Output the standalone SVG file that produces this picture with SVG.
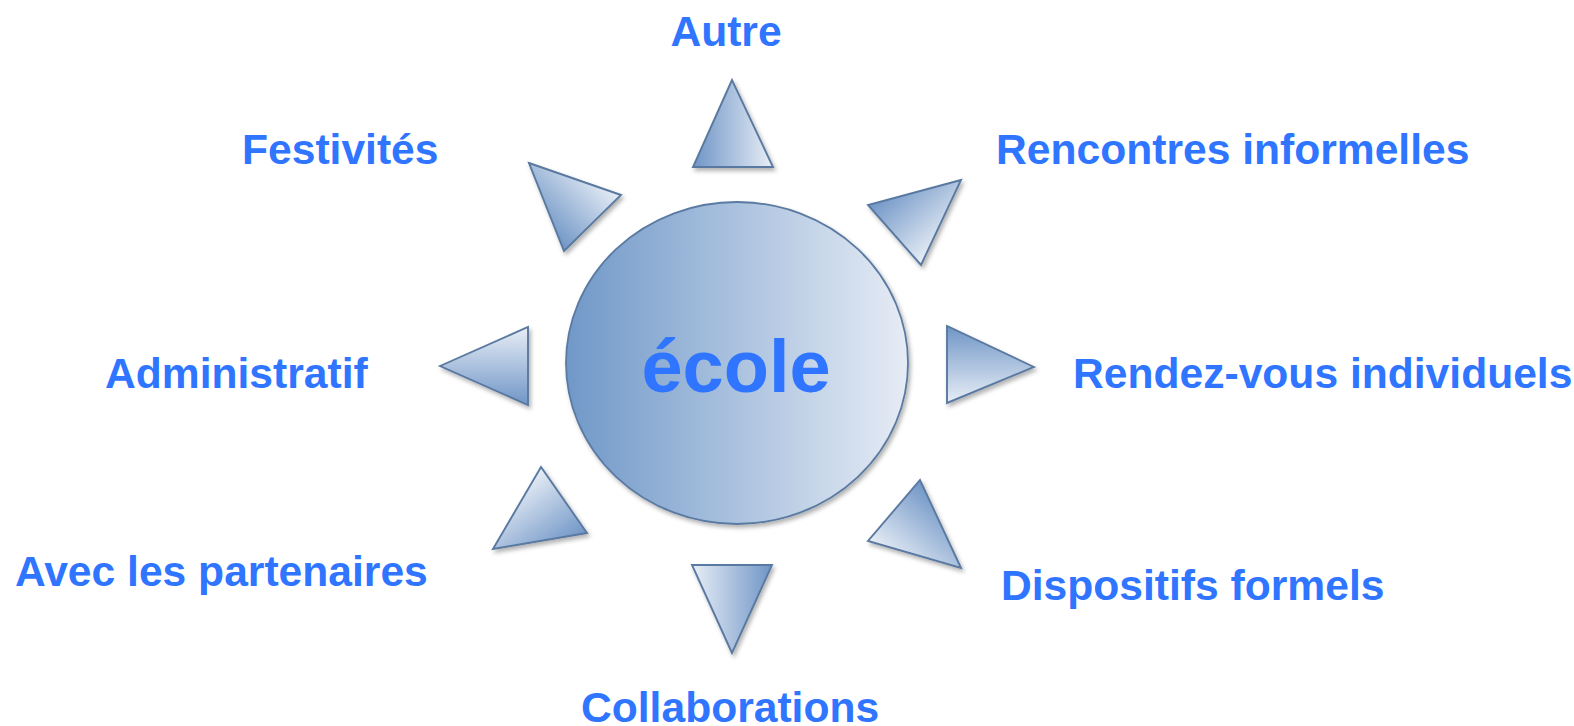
<svg xmlns="http://www.w3.org/2000/svg" width="1574" height="726" viewBox="0 0 1574 726">
  <style>
    .lbl { font-family: "Liberation Sans", Arial, sans-serif; font-weight: bold; font-size: 42.6px; fill: #2F75FF; }
    .center { font-family: "Liberation Sans", Arial, sans-serif; font-weight: bold; font-size: 74px; fill: #2F75FF; }
    .tri { stroke: #5A79A0; stroke-width: 1.9; stroke-linejoin: miter; filter: url(#sh); }
    .circ { stroke: #5A7AA2; stroke-width: 1.8; filter: url(#sh); }
  </style>
  <defs>
    <filter id="sh" x="-20%" y="-20%" width="140%" height="140%">
      <feDropShadow dx="2" dy="3" stdDeviation="2" flood-color="#000" flood-opacity="0.3"/>
    </filter>
    <linearGradient id="gc" x1="0" y1="0" x2="1" y2="0">
      <stop offset="0" stop-color="#7098C8"/>
      <stop offset="1" stop-color="#E6ECF5"/>
    </linearGradient>
    <linearGradient id="g1" gradientUnits="userSpaceOnUse" x1="693" y1="167" x2="773" y2="167"><stop offset="0" stop-color="#6F95C6"/><stop offset="1" stop-color="#E8EEF6"/></linearGradient>
    <linearGradient id="g2" gradientUnits="userSpaceOnUse" x1="564" y1="251" x2="621" y2="195"><stop offset="0" stop-color="#6F95C6"/><stop offset="1" stop-color="#E8EEF6"/></linearGradient>
    <linearGradient id="g3" gradientUnits="userSpaceOnUse" x1="868" y1="205" x2="921" y2="265"><stop offset="0" stop-color="#6F95C6"/><stop offset="1" stop-color="#E8EEF6"/></linearGradient>
    <linearGradient id="g4" gradientUnits="userSpaceOnUse" x1="528" y1="405" x2="528" y2="327"><stop offset="0" stop-color="#6F95C6"/><stop offset="1" stop-color="#E8EEF6"/></linearGradient>
    <linearGradient id="g5" gradientUnits="userSpaceOnUse" x1="947" y1="326" x2="947" y2="403"><stop offset="0" stop-color="#6F95C6"/><stop offset="1" stop-color="#E8EEF6"/></linearGradient>
    <linearGradient id="g6" gradientUnits="userSpaceOnUse" x1="587" y1="533" x2="541" y2="467"><stop offset="0" stop-color="#6F95C6"/><stop offset="1" stop-color="#E8EEF6"/></linearGradient>
    <linearGradient id="g7" gradientUnits="userSpaceOnUse" x1="920" y1="480" x2="868" y2="541"><stop offset="0" stop-color="#6F95C6"/><stop offset="1" stop-color="#E8EEF6"/></linearGradient>
    <linearGradient id="g8" gradientUnits="userSpaceOnUse" x1="772" y1="565" x2="692" y2="565"><stop offset="0" stop-color="#6F95C6"/><stop offset="1" stop-color="#E8EEF6"/></linearGradient>
  </defs>
  <rect width="1574" height="726" fill="#FFFFFF"/>

  <g id="node-ecole">
    <ellipse class="circ" cx="737" cy="363" rx="171" ry="161" fill="url(#gc)"/>
    <text class="center" x="736" y="392" text-anchor="middle">école</text>
  </g>

  <g id="connectors">
    <polygon id="tri-autre" class="tri" points="732,80 693,167 773,167" fill="url(#g1)"/>
    <polygon id="tri-festivites" class="tri" points="529,163 621,195 564,251" fill="url(#g2)"/>
    <polygon id="tri-rencontres" class="tri" points="961,180 868,205 921,265" fill="url(#g3)"/>
    <polygon id="tri-administratif" class="tri" points="440,366 528,327 528,405" fill="url(#g4)"/>
    <polygon id="tri-rendezvous" class="tri" points="1034,367 947,326 947,403" fill="url(#g5)"/>
    <polygon id="tri-partenaires" class="tri" points="493,549 541,467 587,533" fill="url(#g6)"/>
    <polygon id="tri-dispositifs" class="tri" points="961,568 920,480 868,541" fill="url(#g7)"/>
    <polygon id="tri-collaborations" class="tri" points="732,653 692,565 772,565" fill="url(#g8)"/>
  </g>

  <g id="node-autre"><text class="lbl" x="726" y="46" text-anchor="middle">Autre</text></g>
  <g id="node-festivites"><text class="lbl" x="242" y="164">Festivités</text></g>
  <g id="node-rencontres"><text class="lbl" x="996" y="164">Rencontres informelles</text></g>
  <g id="node-administratif"><text class="lbl" x="105" y="388">Administratif</text></g>
  <g id="node-rendezvous"><text class="lbl" x="1073" y="388">Rendez-vous individuels</text></g>
  <g id="node-partenaires"><text class="lbl" x="15" y="586">Avec les partenaires</text></g>
  <g id="node-dispositifs"><text class="lbl" x="1001" y="600">Dispositifs formels</text></g>
  <g id="node-collaborations"><text class="lbl" x="581" y="722">Collaborations</text></g>
</svg>
